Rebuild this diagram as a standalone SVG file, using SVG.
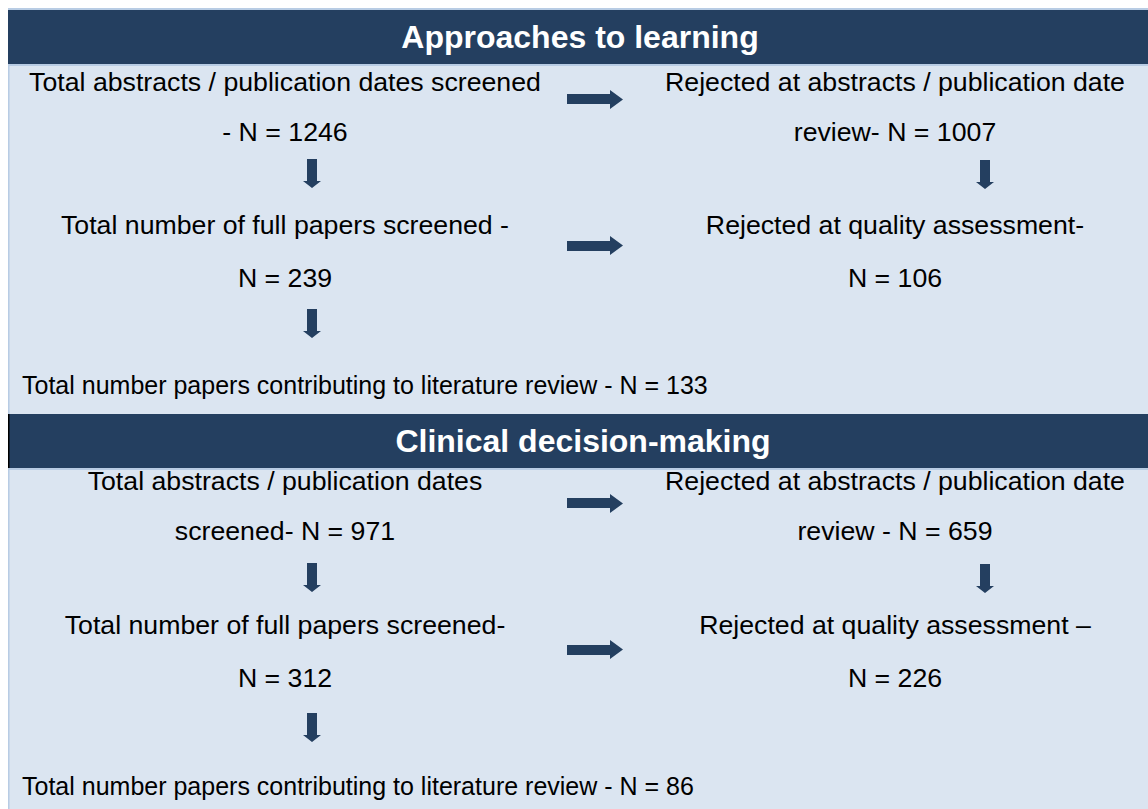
<svg xmlns="http://www.w3.org/2000/svg" width="1148" height="809" viewBox="0 0 1148 809">
<defs>
<style>
.bg{fill:#dbe5f1}
.hdr{fill:#243f60}
.sep{fill:#b8cce4}
.ht{font-family:"Liberation Sans",Arial,sans-serif;font-weight:bold;font-size:32px;fill:#ffffff;text-anchor:middle}
.t{font-family:"Liberation Sans",Arial,sans-serif;font-size:26.7px;fill:#000000}
.f{font-family:"Liberation Sans",Arial,sans-serif;font-size:25px;fill:#000000}
.c{text-anchor:middle}
.ar{fill:#243f60}
</style>
</defs>
<rect x="0" y="0" width="1148" height="809" fill="#ffffff"/>
<rect class="bg" x="8" y="8" width="1140" height="801"/>
<rect class="sep" x="8" y="8" width="1140" height="2"/>
<rect class="sep" x="8" y="10" width="1.5" height="799"/>

<g id="header1">
<rect class="hdr" x="8" y="10" width="1140" height="54"/>
<rect class="sep" x="8" y="64" width="1140" height="2"/>
<text class="ht" x="580" y="48">Approaches to learning</text>
</g>

<g id="n1">
<text class="t c" x="285" y="91">Total abstracts / publication dates screened</text>
<text class="t c" x="285" y="141">- N = 1246</text>
</g>
<g id="n2">
<text class="t c" x="895" y="91">Rejected at abstracts / publication date</text>
<text class="t c" x="895" y="141">review- N = 1007</text>
</g>
<g id="n3">
<text class="t c" x="285" y="234">Total number of full papers screened -</text>
<text class="t c" x="285" y="287">N = 239</text>
</g>
<g id="n4">
<text class="t c" x="895" y="234">Rejected at quality assessment-</text>
<text class="t c" x="895" y="287">N = 106</text>
</g>
<g id="n5">
<text class="f" x="22" y="394">Total number papers contributing to literature review - N = 133</text>
</g>

<g id="header2">
<rect class="hdr" x="8" y="414" width="1140" height="54"/>
<rect x="8" y="414" width="1.5" height="54" fill="#000000"/>
<rect class="sep" x="8" y="468" width="1140" height="2"/>
<text class="ht" x="583" y="452">Clinical decision-making</text>
</g>

<g id="n6">
<text class="t c" x="285" y="490">Total abstracts / publication dates</text>
<text class="t c" x="285" y="540">screened- N = 971</text>
</g>
<g id="n7">
<text class="t c" x="895" y="490">Rejected at abstracts / publication date</text>
<text class="t c" x="895" y="540">review - N = 659</text>
</g>
<g id="n8">
<text class="t c" x="285" y="634">Total number of full papers screened-</text>
<text class="t c" x="285" y="687">N = 312</text>
</g>
<g id="n9">
<text class="t c" x="895" y="634">Rejected at quality assessment –</text>
<text class="t c" x="895" y="687">N = 226</text>
</g>
<g id="n10">
<text class="f" x="22" y="795">Total number papers contributing to literature review - N = 86</text>
</g>

<g id="connectors">
<polygon class="ar" points="567,94 610,94 610,90 623,99.5 610,109 610,104 567,104"/>
<polygon class="ar" points="567,241 610,241 610,236 623,245.5 610,255 610,251 567,251"/>
<polygon class="ar" points="567,498 610,498 610,494 623,503.5 610,513 610,508 567,508"/>
<polygon class="ar" points="567,645 610,645 610,640 623,649.5 610,659 610,655 567,655"/>
<polygon class="ar" points="307,159 317,159 317,181 321,181 312,188 303,181 307,181"/>
<polygon class="ar" points="307,309 317,309 317,331 321,331 312,338 303,331 307,331"/>
<polygon class="ar" points="307,563 317,563 317,585 321,585 312,592 303,585 307,585"/>
<polygon class="ar" points="307,713 317,713 317,735 321,735 312,742 303,735 307,735"/>
<polygon class="ar" points="980,160 990,160 990,182 994,182 985,189 976,182 980,182"/>
<polygon class="ar" points="980,564 990,564 990,586 994,586 985,593 976,586 980,586"/>
</g>
</svg>
